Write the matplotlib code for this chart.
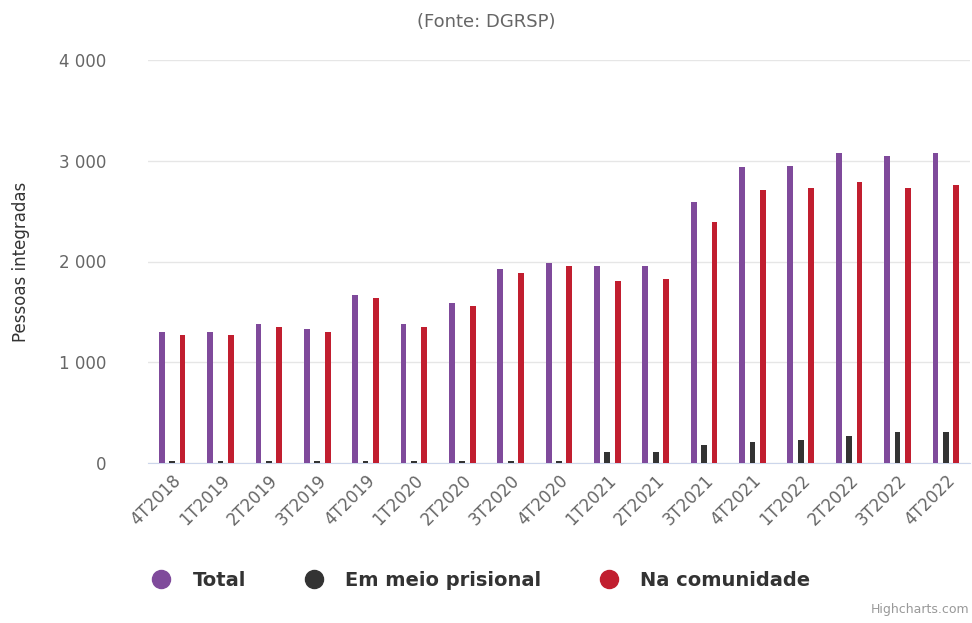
import numpy as np
import matplotlib
matplotlib.use('Agg')
import matplotlib.pyplot as plt
from matplotlib.lines import Line2D

# dados
trimestres = ['4T2018', '1T2019', '2T2019', '3T2019', '4T2019', '1T2020', '2T2020',
              '3T2020', '4T2020', '1T2021', '2T2021', '3T2021', '4T2021', '1T2022',
              '2T2022', '3T2022', '4T2022']
total = [1302, 1302, 1382, 1332, 1666, 1382, 1587, 1921, 1981, 1951, 1951,
         2588, 2935, 2952, 3078, 3045, 3078]
meio_prisional = [22, 22, 22, 22, 22, 22, 22, 22, 18, 112, 112,
                  179, 209, 225, 271, 304, 304]
comunidade = [1268, 1268, 1348, 1302, 1633, 1348, 1557, 1889, 1951, 1809, 1825,
              2396, 2714, 2727, 2789, 2727, 2760]

c_total = '#7f4a9b'
c_prisao = '#333333'
c_comun = '#c11e2f'
grey = '#666666'

fig = plt.figure(figsize=(9.72, 6.23), dpi=100)
ax = fig.add_axes([148 / 972, 1 - 463 / 623, 822 / 972, 403 / 623])

x = np.arange(len(trimestres))
w = 0.12
off = 0.215
ax.bar(x - off, total, w, color=c_total, zorder=3)
ax.bar(x, meio_prisional, w, color=c_prisao, zorder=3)
ax.bar(x + off, comunidade, w, color=c_comun, zorder=3)

ax.set_xlim(-0.5, len(trimestres) - 0.5)
ax.set_ylim(0, 4000)
ax.set_yticks([0, 1000, 2000, 3000, 4000])
ax.set_yticklabels(['0', '1 000', '2 000', '3 000', '4 000'])
ax.yaxis.grid(True, color='#e6e6e6', linewidth=1, zorder=0)
ax.tick_params(axis='y', length=0, pad=30, labelsize=12, labelcolor=grey)

ax.set_xticks(x)
ax.set_xticklabels(trimestres, rotation=45, ha='right', rotation_mode='anchor')
ax.tick_params(axis='x', length=0, pad=6, labelsize=12, labelcolor=grey)

for s in ['top', 'right', 'left']:
    ax.spines[s].set_visible(False)
ax.spines['bottom'].set_color('#ccd6eb')

fig.text(0.022, 1 - 262 / 623, 'Pessoas integradas', rotation=90, ha='center',
         va='center', fontsize=12, color='#333333')
fig.text(0.5, 1 - 22 / 623, '(Fonte: DGRSP)', ha='center', va='center',
         fontsize=13, color=grey)

handles = [Line2D([], [], marker='o', linestyle='', markersize=13, color=c)
           for c in [c_total, c_prisao, c_comun]]
fig.legend(handles, ['Total', 'Em meio prisional', 'Na comunidade'],
           loc='center', bbox_to_anchor=(0.49, 1 - 580 / 623), ncol=3,
           frameon=False, prop={'size': 14, 'weight': 'bold'},
           labelcolor='#333333', columnspacing=2.5, handletextpad=0.6)

fig.text(0.997, 0.012, 'Highcharts.com', ha='right', va='bottom', fontsize=9,
         color='#999999')

plt.savefig('out.png', dpi=100)
